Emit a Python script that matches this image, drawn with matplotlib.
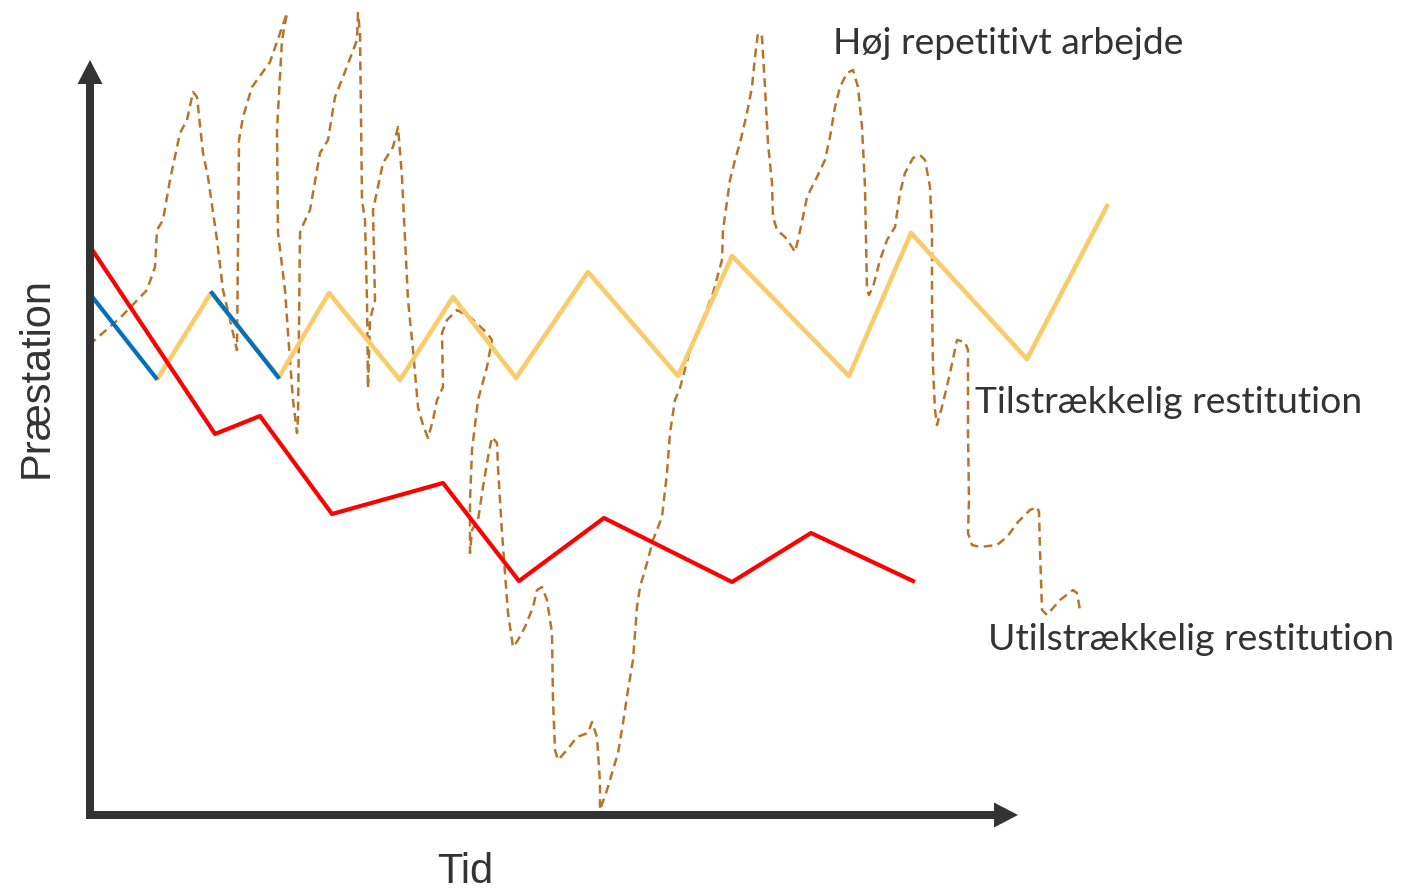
import matplotlib
matplotlib.use("Agg")
import matplotlib.pyplot as plt

# Tid / Præstation (vilkårlige enheder)
hoej_tid = [-1, 30, 57, 65, 67, 73, 80, 90, 97, 103, 107, 113, 118, 127, 133, 140, 147,
            149, 153, 162, 180, 190, 197, 192, 187, 188, 195, 198, 203, 207, 208, 210,
            212, 220, 230, 238, 245, 253, 267, 268, 270, 272, 275, 277, 278, 280, 285,
            283, 293, 303, 308, 312, 318, 323, 328, 333, 338, 343, 347, 353, 352, 357,
            367, 380, 397, 402, 397, 388, 382, 380, 380, 382, 388, 393, 398, 402, 407,
            408, 412, 415, 418, 423, 428, 435, 443, 447, 452, 457, 462, 463, 465, 468,
            477, 487, 498, 502, 507, 510, 510, 517, 528, 533, 538, 543, 547, 550, 557,
            563, 572, 577, 580, 585, 590, 600, 610, 623, 632, 633, 640, 645, 650, 657,
            662, 665, 668, 672, 675, 678, 682, 683, 687, 695, 702, 705, 708, 713, 717,
            727, 735, 740, 745, 750, 757, 763, 768, 772, 775, 777, 779, 783, 790, 797,
            805, 810, 815, 823, 830, 835, 840, 842, 842, 843, 845, 847, 853, 860, 867,
            875, 878, 878, 879, 878, 882, 890, 907, 917, 928, 940, 947, 949, 950, 952,
            957, 970, 983, 987, 990]
hoej_praest = [470, 497, 525, 548, 585, 595, 635, 682, 695, 723, 718, 662, 638, 575, 525,
               495, 465, 675, 698, 728, 753, 782, 802, 775, 685, 582, 525, 482, 415, 382,
               395, 582, 588, 605, 662, 675, 718, 738, 775, 802, 782, 615, 595, 515, 427,
               495, 515, 605, 652, 668, 688, 638, 515, 465, 408, 390, 377, 395, 415, 428,
               482, 495, 505, 498, 482, 475, 448, 415, 365, 315, 262, 285, 295, 328, 358,
               378, 372, 348, 282, 242, 202, 168, 175, 188, 208, 225, 228, 215, 182, 115,
               65, 55, 65, 78, 82, 93, 78, 32, 5, 25, 62, 92, 125, 155, 208, 228, 252,
               275, 298, 342, 382, 415, 427, 465, 488, 522, 555, 585, 635, 655, 672, 702,
               728, 758, 782, 778, 728, 672, 632, 598, 585, 578, 568, 563, 575, 598, 618,
               638, 655, 678, 708, 728, 742, 745, 728, 688, 628, 525, 520, 528, 555, 575,
               588, 622, 642, 657, 660, 655, 628, 582, 515, 448, 405, 390, 412, 442, 475,
               473, 465, 382, 315, 282, 270, 268, 270, 278, 293, 305, 308, 303, 265, 205,
               200, 215, 225, 222, 205]

til_tid = [68, 121, 189, 239, 310, 363, 426, 498, 588, 642, 759, 821, 937, 1017]
til_praest = [437, 522, 438, 522, 435, 518, 437, 543, 439, 559, 439, 582, 456, 609]

blaa_tid = [[0, 66], [122, 188]]
blaa_praest = [[521, 437], [522, 438]]

util_tid = [3, 125, 170, 242, 353, 429, 514, 642, 721, 823]
util_praest = [564, 381, 399, 301, 332, 234, 297, 233, 282, 234]

fig = plt.figure(figsize=(14.03, 8.9), dpi=100)
ax = fig.add_axes([0, 0, 1, 1])
ax.set_xlim(-90, 1313)
ax.set_ylim(-75, 815)
ax.axis('off')

# akser med pile
akse_farve = '#333333'
ax.arrow(0, -4, 0, 759, width=8, head_width=25, head_length=24,
         length_includes_head=True, fc=akse_farve, ec='none', zorder=5)
ax.arrow(-4, 0, 932, 0, width=8, head_width=25, head_length=24,
         length_includes_head=True, fc=akse_farve, ec='none', zorder=5)

ax.plot(hoej_tid, hoej_praest, color='#B5762B', lw=1.8, dashes=(3.5, 2.2), zorder=2)
ax.plot(til_tid, til_praest, color='#F9CC6B', lw=3.3, zorder=3)
for t, p in zip(blaa_tid, blaa_praest):
    ax.plot(t, p, color='#0070C0', lw=3.0, zorder=4)
ax.plot(util_tid, util_praest, color='#FF0000', lw=3.0, zorder=4)

tekst = dict(family='Lato', color='#333333', fontsize=26.8, ha='left', va='baseline')
ax.text(743, 761, 'Høj repetitivt arbejde', **tekst)
ax.text(885, 402, 'Tilstrækkelig restitution', **tekst)
ax.text(898, 165, 'Utilstrækkelig restitution', **tekst)

ax.text(375, -68, 'Tid', family='Liberation Sans', color='#333333', fontsize=30,
        ha='center', va='baseline')
ax.text(-42, 437, 'Præstation', family='Liberation Sans', color='#333333', fontsize=30,
        rotation=90, ha='center', va='baseline', rotation_mode='anchor')

fig.savefig('out.png', dpi=100)
